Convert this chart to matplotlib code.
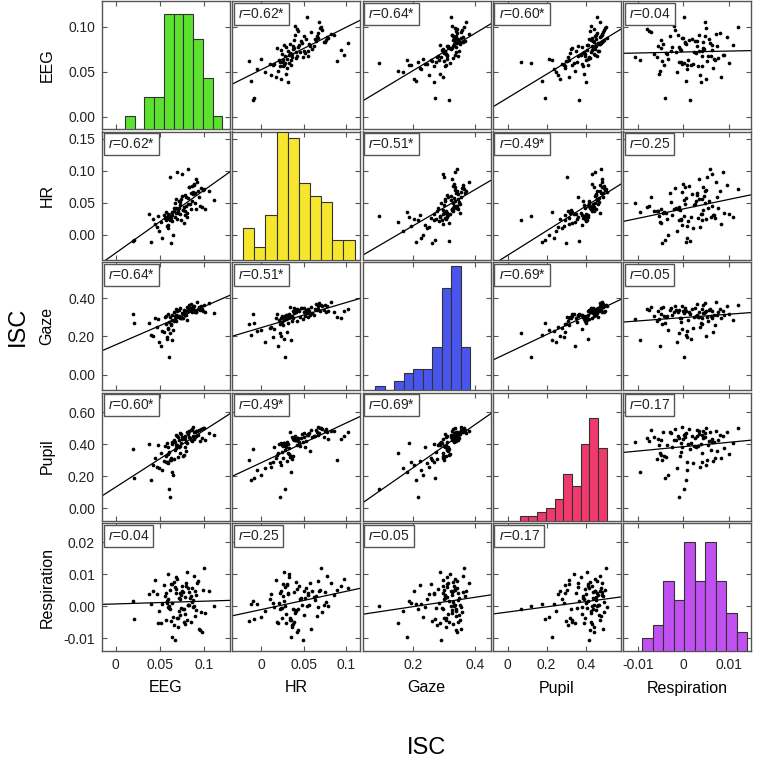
import numpy as np
import matplotlib
matplotlib.use("Agg")
import matplotlib.pyplot as plt

plt.rcParams["font.family"] = ["Liberation Sans", "DejaVu Sans"]
plt.rcParams["mathtext.fontset"] = "custom"
plt.rcParams["mathtext.it"] = "Liberation Sans:italic"
plt.rcParams["mathtext.rm"] = "Liberation Sans"

names = ["EEG", "HR", "Gaze", "Pupil", "Respiration"]

eeg = [.0400, .0527, .0585, .0620, .0210, .0492, .0575, .0610, .0645, .0460,
       .0565, .0600, .0635, .0420, .0545, .0590, .0625, .0380, .0510, .0580,
       .0615, .0190, .0475, .0570, .0605, .0640, .0440, .0560, .0595, .0630,
       .0670, .0705, .0740, .0776, .0660, .0695, .0730, .0766, .0801, .0685,
       .0720, .0756, .0791, .0675, .0710, .0746, .0781, .0665, .0700, .0735,
       .0771, .0655, .0690, .0725, .0761, .0796, .0680, .0715, .0751, .0786,
       .0821, .0862, .0904, .0972, .0811, .0850, .0892, .0952, .1110, .0838,
       .0880, .0932, .1008, .0826, .0868, .0911, .0983, .0816, .0856, .0898,
       .0962, .0806, .0844, .0886, .0942, .1050, .0831, .0874, .0919, .0995]
hr = [-.0120, -.0050, .0100, -.0140, -.0080, .0050, .0140, .0226, .0000, .0120,
      .0220, .0286, .0350, .0238, .0304, .0155, .0256, .0320, .0200, .0274,
      .0900, -.0100, .0292, .0356, .0244, .0310, .0170, .0262, .0325, .0215,
      .0280, .0344, .0232, .0298, .0362, .0250, .0316, .0185, .0268, .0332,
      .0460, .0380, .0582, .0422, .0520, .0940, .0618, .0490, .0368, .0550,
      .0434, .0410, .0980, .0510, .0386, .0450, .0558, .0416, .0606, .0374,
      .0480, .0530, .0404, .0428, .0570, .0392, .0500, .0440, .0540, .0470,
      .0790, .0676, .0398, .0737, .0630, .0860, .0698, .1030, .0763, .0654,
      .0724, .0338, .0642, .0776, .0594, .0685, .0750, .0666, .0820, .0711]
gaze = [.209, .227, .245, .262, .272, .168, .195, .215, .232, .251,
        .266, .090, .180, .202, .221, .238, .257, .269, .152, .188,
        .299, .315, .288, .306, .275, .310, .296, .303, .319, .284,
        .308, .301, .294, .312, .278, .305, .297, .317, .286, .309,
        .300, .295, .313, .281, .304, .298, .311, .291, .307, .302,
        .340, .328, .3345, .347, .324, .332, .344, .337, .321, .330,
        .350, .335, .326, .342, .333, .346, .3285, .339, .323, .348,
        .331, .343, .327, .336, .345, .325, .334, .341, .329, .338,
        .358, .352, .368, .360, .354, .372, .362, .356, .380, .365]
pupil = [.175, .240, .280, .300, .190, .250, .287, .070, .210, .260,
         .292, .120, .225, .270, .296, .382, .316, .402, .343, .410,
         .304, .368, .392, .328, .353, .412, .312, .387, .338, .400,
         .363, .320, .407, .380, .308, .395, .348, .332, .405, .374,
         .390, .324, .358, .397, .385, .431, .454, .416, .443, .464,
         .436, .424, .449, .469, .439, .414, .458, .428, .446, .434,
         .462, .418, .453, .441, .467, .426, .448, .420, .460, .438,
         .433, .456, .429, .444, .451, .481, .498, .479, .495, .477,
         .492, .475, .489, .473, .487, .471, .485, .510, .483, .503]
resp = [.0006, .0007, .0021, -.0046, -.0040, -.0014, .0009, -.0010, -.0033, .0037,
        .0042, .0002, -.0095, .0049, .0066, -.0002, .0070, .0038, -.0052, .0017,
        .0052, .0015, -.0054, -.0042, -.0006, .0068, .0083, .0032, .0100, .0011,
        .0060, -.0038, -.0005, -.0024, -.0058, -.0036, .0041, -.0050, .0108, .0090,
        .0023, -.0008, .0074, .0054, .0027, .0064, .0029, -.0105, -.0065, .0035,
        -.0009, .0077, .0086, -.0027, .0044, .0062, .0040, -.0016, .0046, -.0056,
        .0003, .0056, -.0012, -.0080, .0005, -.0048, .0048, -.0075, .0001, .0025,
        .0000, .0080, -.0021, .0004, .0019, .0034, .0050, .0058, .0013, -.0030,
        -.0018, -.0044, .0031, .0095, -.0070, .0047, .0043, -.0003, .0072, .0120]

# correlations printed in the boxes, pair order (0,1),(0,2),...,(3,4)
pair_r = ["0.62*", "0.64*", "0.60*", "0.04", "0.51*", "0.49*", "0.25", "0.69*", "0.05", "0.17"]

xlims = [(-0.0156, 0.129), (-0.034, 0.117), (0.0375, 0.45), (-0.075, 0.58), (-0.0132, 0.0149)]
ylims = [(-0.0138, 0.1287), (-0.039, 0.161), (-0.08, 0.588), (-0.075, 0.722), (-0.014, 0.026)]
xticks = [[0, 0.05, 0.1], [0, 0.05, 0.1], [0.2, 0.4], [0, 0.2, 0.4], [-0.01, 0, 0.01]]
xticklabels = [["0", "0.05", "0.1"], ["0", "0.05", "0.1"], ["0.2", "0.4"],
               ["0", "0.2", "0.4"], ["-0.01", "0", "0.01"]]
yticks = [[0, 0.05, 0.1], [0, 0.05, 0.1, 0.15], [0, 0.2, 0.4], [0, 0.2, 0.4, 0.6],
          [-0.01, 0, 0.01, 0.02]]
yticklabels = [["0.00", "0.05", "0.10"], ["0.00", "0.05", "0.10", "0.15"],
               ["0.00", "0.20", "0.40"], ["0.00", "0.20", "0.40", "0.60"],
               ["-0.01", "0.00", "0.01", "0.02"]]
colors = ["#5ce22e", "#f7e62e", "#4a55ee", "#f03a6e", "#c050f0"]
# where the histogram bars start/end inside the diagonal panels (axes fraction)
hist_frac = [(0.18, 0.94), (0.085, 0.955), (0.10, 0.84), (0.21, 0.89), (0.15, 0.97)]

data = [np.array(v) for v in (eeg, hr, gaze, pupil, resp)]
pair_idx = {}
k = 0
for a in range(5):
    for b in range(a + 1, 5):
        pair_idx[(a, b)] = k
        k += 1

W, H = 765, 760
L0, DX, AW = 102, 130.3, 128
T0, DY, AH = 1, 130.5, 128
frame = "#555555"

fig = plt.figure(figsize=(W / 100, H / 100), dpi=100)

for r in range(5):
    for c in range(5):
        left = L0 + c * DX
        top = T0 + r * DY
        ax = fig.add_axes([left / W, 1 - (top + AH) / H, AW / W, AH / H])
        ax.set_xlim(xlims[c])
        ax.set_ylim(ylims[r])
        ax.set_xticks(xticks[c])
        ax.set_yticks(yticks[r])
        ax.set_xticklabels(xticklabels[c] if r == 4 else [])
        ax.set_yticklabels(yticklabels[r] if c == 0 else [])
        ax.tick_params(direction="in", length=3.5, width=0.8, color=frame,
                       top=True, right=True, labelsize=10, pad=5, labelcolor="#222222")
        for s in ax.spines.values():
            s.set_color(frame)
            s.set_linewidth(1.0)

        if r == c:
            hax = fig.add_axes(ax.get_position(), frameon=False)
            vals = data[c]
            lo, hi = vals.min(), vals.max()
            counts, _, _ = hax.hist(vals, bins=10, range=(lo, hi),
                                    color=colors[c], edgecolor="#333333", linewidth=0.8)
            f0, f1 = hist_frac[c]
            span = (hi - lo) / (f1 - f0)
            hax.set_xlim(lo - f0 * span, lo - f0 * span + span)
            hax.set_ylim(0, 10 * np.ceil(counts.max() / 10))
            hax.set_xticks([])
            hax.set_yticks([])
            continue

        x, y = data[c], data[r]
        ax.scatter(x, y, s=7, c="black", linewidths=0, zorder=3)
        slope, icpt = np.polyfit(x, y, 1)
        xs = np.array(xlims[c])
        ax.plot(xs, slope * xs + icpt, color="black", lw=0.9, zorder=2)

        lab = pair_r[pair_idx[(min(r, c), max(r, c))]]
        ax.text(0.045, 0.955, "$r$=" + lab, transform=ax.transAxes, ha="left", va="top",
                fontsize=10, color="#222222", zorder=5,
                bbox=dict(boxstyle="square,pad=0.3", fc="white", ec=frame, lw=1.0))

# variable names
for i, n in enumerate(names):
    cy = T0 + i * DY + AH / 2
    fig.text(47 / W, 1 - cy / H, n, rotation=90, ha="center", va="center", fontsize=11.5)
    cx = L0 + i * DX + AW / 2
    fig.text(cx / W, 1 - 688 / H, n, ha="center", va="center", fontsize=11.5)

grid_cx = (L0 + 4 * DX + AW + L0) / 2
grid_cy = (T0 + 4 * DY + AH + T0) / 2
fig.text(18 / W, 1 - grid_cy / H, "ISC", rotation=90, ha="center", va="center", fontsize=17)
fig.text(grid_cx / W, 1 - 748 / H, "ISC", ha="center", va="center", fontsize=17)

fig.savefig("out.png", dpi=100)
